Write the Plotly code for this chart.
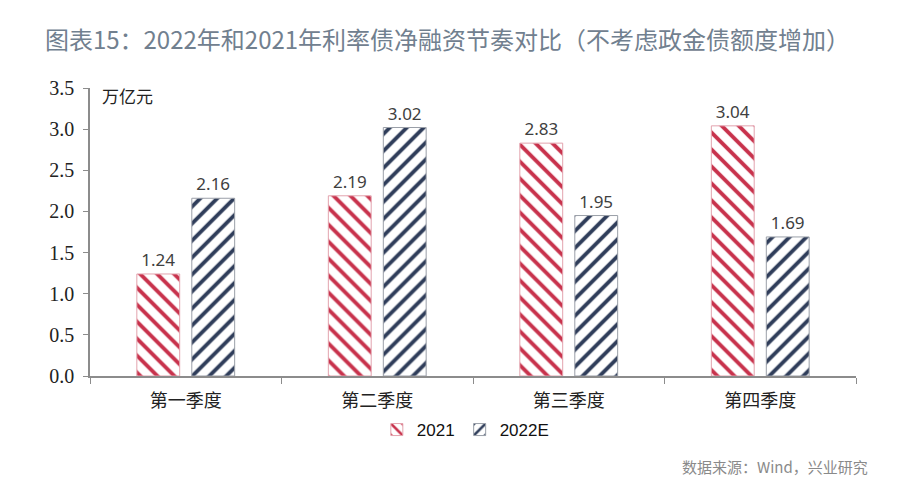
import plotly.graph_objects as go

# data
quarters = ["第一季度", "第二季度", "第三季度", "第四季度"]
net_2021 = [1.24, 2.19, 2.83, 3.04]
net_2022e = [2.16, 3.02, 1.95, 1.69]
y_ticks = [0.0, 0.5, 1.0, 1.5, 2.0, 2.5, 3.0, 3.5]

RED = "#C8324C"
NAVY = "#2F3D5A"
LABEL_FONT = dict(family="Noto Sans, Open Sans, sans-serif", size=17, color="#404040")

fig = go.Figure()
fig.add_trace(go.Bar(
    name="2021",
    x=quarters,
    y=net_2021,
    text=[f"{v:.2f}" for v in net_2021],
    textposition="outside",
    textfont=LABEL_FONT,
    cliponaxis=False,
    marker=dict(
        color="white",
        line=dict(color="#E3A3AE", width=1),
        pattern=dict(shape="\\", fgcolor=RED, bgcolor="white", fgopacity=1,
                     size=12, solidity=0.32),
    ),
))
fig.add_trace(go.Bar(
    name="2022E",
    x=quarters,
    y=net_2022e,
    text=[f"{v:.2f}" for v in net_2022e],
    textposition="outside",
    textfont=LABEL_FONT,
    cliponaxis=False,
    marker=dict(
        color="white",
        line=dict(color="#9A9FA8", width=1),
        pattern=dict(shape="/", fgcolor=NAVY, bgcolor="white", fgopacity=1,
                     size=12, solidity=0.32),
    ),
))

# the page body adds an 8px offset, margins below already account for it
fig.update_layout(
    width=900,
    height=487,
    paper_bgcolor="white",
    plot_bgcolor="white",
    barmode="group",
    bargap=0.426,
    bargroupgap=0.22,
    margin=dict(l=82, r=52, t=80, b=119),
    title=dict(
        text="图表15：2022年和2021年利率债净融资节奏对比（不考虑政金债额度增加）",
        x=0.041, xanchor="left", y=0.934, yanchor="middle",
        font=dict(family="Noto Sans CJK SC", size=24, color="#71808F"),
    ),
    legend=dict(
        orientation="h",
        x=0.49, xanchor="center", y=-0.125, yanchor="top",
        font=dict(family="Liberation Sans", size=17, color="#111111"),
        itemwidth=30,
        tracegroupgap=0,
    ),
    showlegend=True,
)

fig.update_xaxes(
    showline=True, linecolor="#8C8C8C", linewidth=1.5,
    ticks="outside", ticklen=6, tickcolor="#8C8C8C",
    tickson="boundaries",
    ticklabelstandoff=8,
    showgrid=False,
    tickfont=dict(family="Noto Sans CJK SC", size=18, color="#222222"),
)
fig.update_yaxes(
    range=[0, 3.5],
    tickvals=y_ticks,
    ticktext=[f"{v:.1f}" for v in y_ticks],
    showline=True, linecolor="#8C8C8C", linewidth=1.5,
    ticks="outside", ticklen=5, tickcolor="#8C8C8C",
    ticklabelstandoff=5,
    showgrid=False, zeroline=False,
    tickfont=dict(family="'Times New Roman', 'Liberation Serif', Tinos, serif",
                  size=20, color="#222222"),
)

fig.add_annotation(
    text="万亿元", xref="paper", yref="paper", x=0.013, y=1.025,
    xanchor="left", yanchor="top", showarrow=False,
    font=dict(family="Noto Sans CJK SC", size=17, color="#222222"),
)
fig.add_annotation(
    text="数据来源：Wind，兴业研究", xref="paper", yref="paper", x=1.018, y=-0.3125,
    xanchor="right", yanchor="middle", showarrow=False,
    font=dict(family="Noto Sans CJK SC", size=15, color="#8A8A8A"),
)

fig.write_html("out.html")
